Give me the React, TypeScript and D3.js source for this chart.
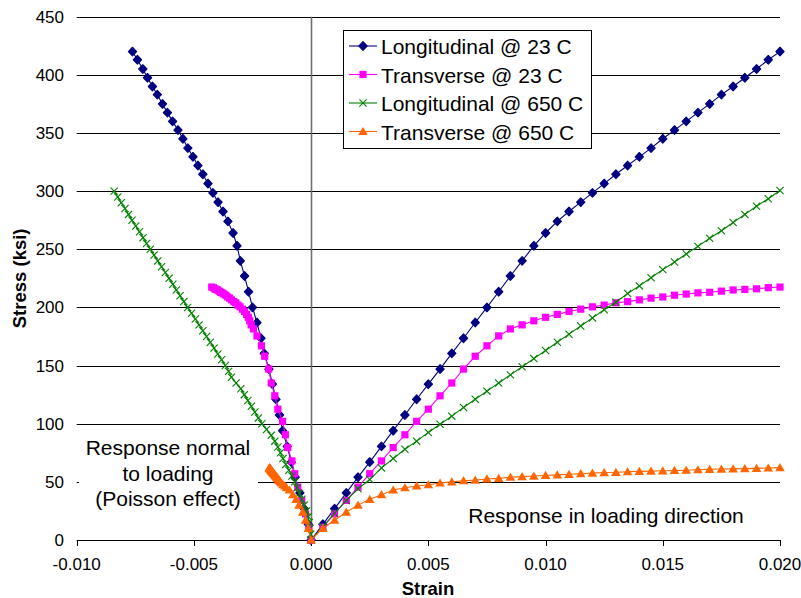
import React from "react";
import * as d3 from "d3";

// strain values of the loading-direction branches
const strainPos = [0, 0.0005, 0.001, 0.0015, 0.002, 0.0025, 0.003, 0.0035, 0.004, 0.0045, 0.005, 0.0055, 0.006, 0.0065, 0.007, 0.0075, 0.008, 0.0085, 0.009, 0.0095, 0.01, 0.0105, 0.011, 0.0115, 0.012, 0.0125, 0.013, 0.0135, 0.014, 0.0145, 0.015, 0.0155, 0.016, 0.0165, 0.017, 0.0175, 0.018, 0.0185, 0.019, 0.0195, 0.02];

// Longitudinal @ 23 C
const longRTStress = [0, 13.5, 27, 40.5, 54, 67, 80.5, 94, 107.5, 121, 134, 147, 160.5, 173.5, 187, 200, 213.5, 227, 240, 253, 264, 274, 282.5, 290.5, 298.5, 306.5, 314.5, 322, 329.5, 337, 345, 352.5, 360, 367.5, 375, 383, 390, 397.5, 405, 413, 420];
const longRTNegStrain = [0, -0.00012, -0.0003, -0.00048, -0.00068, -0.00085, -0.00102, -0.00122, -0.00135, -0.0015, -0.00165, -0.0018, -0.002, -0.00214, -0.00231, -0.0025, -0.00267, -0.00284, -0.00302, -0.00316, -0.00333, -0.00355, -0.00376, -0.00397, -0.00419, -0.0044, -0.00462, -0.00483, -0.00504, -0.00526, -0.00547, -0.00568, -0.00591, -0.00613, -0.00634, -0.00656, -0.00677, -0.00698, -0.00718, -0.00741, -0.00762];

// Transverse @ 23 C
const transRTStress = [0, 11, 22.5, 34, 45.5, 57, 68, 79.5, 90.5, 102, 112.5, 124, 135, 147, 158, 167, 175.5, 181.5, 185, 188.5, 191.5, 194, 196.5, 198.5, 200.5, 202, 204, 205, 206.5, 208, 209, 210.5, 211.5, 212.5, 213, 214, 215, 215.5, 216, 217, 217.5];
const transRTNegStrain = [0, -0.0001, -0.00024, -0.0004, -0.00057, -0.0007, -0.00082, -0.001, -0.0011, -0.00122, -0.00142, -0.00155, -0.0017, -0.00181, -0.00198, -0.00212, -0.00231, -0.00246, -0.00256, -0.00262, -0.00268, -0.00275, -0.00284, -0.00293, -0.00303, -0.00312, -0.00322, -0.0033, -0.0034, -0.00348, -0.00356, -0.00364, -0.00372, -0.0038, -0.00386, -0.00392, -0.00399, -0.00405, -0.00411, -0.00417, -0.00424];

// Longitudinal @ 650 C
const longHTStress = [0, 11.5, 23, 34, 44, 52, 62, 70, 78, 85, 92.5, 99.5, 106.5, 114, 121, 128, 135, 142, 149, 156, 163, 170, 177, 184, 191, 198, 204.5, 212, 218.5, 225.5, 232.5, 239, 246, 252.5, 259.5, 266, 273, 280, 287, 293.5, 300.5];
const longHTNegStress = [0, 5, 10, 15, 20, 25, 30, 35, 40, 45, 50, 55, 60, 65, 70, 75, 80, 85, 90, 95, 100, 105, 110, 115, 120, 125, 130, 135, 140, 145, 150, 155, 160, 165, 170, 175, 180, 185, 190, 195, 200, 205, 210, 215, 220, 225, 230, 235, 240, 245, 250, 255, 260, 265, 270, 275, 280, 285, 290, 295, 300];
const longHTNegStrain = [0, -0.00002, -0.00005, -0.00008, -0.00012, -0.0002, -0.0003, -0.0004, -0.0005, -0.0006, -0.0007, -0.00082, -0.00095, -0.00108, -0.0012, -0.00131, -0.00142, -0.00155, -0.0017, -0.0019, -0.0021, -0.00225, -0.0024, -0.00255, -0.0027, -0.00285, -0.003, -0.0032, -0.0034, -0.00352, -0.00366, -0.00382, -0.00398, -0.00414, -0.0043, -0.00446, -0.00462, -0.00478, -0.00494, -0.0051, -0.00527, -0.00543, -0.00559, -0.00575, -0.0059, -0.00606, -0.00622, -0.00638, -0.00654, -0.0067, -0.00686, -0.00702, -0.00717, -0.00732, -0.00748, -0.00764, -0.00779, -0.00794, -0.0081, -0.00825, -0.0084];

// Transverse @ 650 C
const transHTStress = [0, 10, 17, 24, 30, 35, 39, 43, 45, 46.5, 47.5, 49, 50, 51, 51.5, 52.5, 53, 54, 54.5, 55, 55.5, 56, 56.5, 57, 57.5, 58, 58.2, 58.7, 59, 59.2, 59.5, 59.8, 60, 60.4, 60.8, 61, 61.2, 61.4, 61.6, 61.9, 62.2];
const transHTNegStrain = [0, -0.00012, -0.00024, -0.00036, -0.00052, -0.00064, -0.00078, -0.00092, -0.00105, -0.00112, -0.0012, -0.00126, -0.00131, -0.00135, -0.00138, -0.0014, -0.00143, -0.00146, -0.00148, -0.0015, -0.00152, -0.00154, -0.00156, -0.00158, -0.0016, -0.00162, -0.00163, -0.00165, -0.00166, -0.00167, -0.00168, -0.00169, -0.0017, -0.00171, -0.00172, -0.00173, -0.00174, -0.00175, -0.00176, -0.00177, -0.00178];

const xTicks = [-0.01, -0.005, 0, 0.005, 0.01, 0.015, 0.02];
const yTicks = [0, 50, 100, 150, 200, 250, 300, 350, 400, 450];

const seriesNames = ["Longitudinal @ 23 C", "Transverse @ 23 C", "Longitudinal @ 650 C", "Transverse @ 650 C"];
const seriesColors = ["#000080", "#FF00FF", "#008000", "#FF6600"];
const seriesMarkers = ["diamond", "square", "x", "triangle"];

const FONT = "'Liberation Sans', Arial, Helvetica, sans-serif";

type Pt = [number, number];

function Marker({ kind, color, x, y }: { kind: string; color: string; x: number; y: number }) {
  if (kind === "diamond") {
    return <path d={`M${x},${y - 4.3}L${x + 4.1},${y}L${x},${y + 4.3}L${x - 4.1},${y}Z`} fill={color} stroke={color} strokeWidth={1.2} strokeLinejoin="round" />;
  }
  if (kind === "square") {
    return <rect x={x - 3.6} y={y - 3.6} width={7.2} height={7.2} fill={color} />;
  }
  if (kind === "triangle") {
    return <path d={`M${x},${y - 4.6}L${x + 4.8},${y + 3.6}L${x - 4.8},${y + 3.6}Z`} fill={color} />;
  }
  return (
    <g stroke={color} strokeWidth={1.1}>
      <line x1={x - 3.6} y1={y - 3.6} x2={x + 3.6} y2={y + 3.6} />
      <line x1={x - 3.6} y1={y + 3.6} x2={x + 3.6} y2={y - 3.6} />
    </g>
  );
}

export default function App() {
  const W = 801, H = 598;
  const x = d3.scaleLinear().domain([-0.01, 0.02]).range([76.7, 780]);
  const y = d3.scaleLinear().domain([0, 450]).range([540, 16.7]);

  const zip = (xs: number[], ys: number[]): Pt[] => xs.map((v, i) => [v, ys[i]] as Pt);

  const series = [
    { neg: zip(longRTNegStrain, longRTStress), pos: zip(strainPos, longRTStress) },
    { neg: zip(transRTNegStrain, transRTStress), pos: zip(strainPos, transRTStress) },
    { neg: zip(longHTNegStrain, longHTNegStress), pos: zip(strainPos, longHTStress) },
    { neg: zip(transHTNegStrain, transHTStress), pos: zip(strainPos, transHTStress) },
  ];

  const line = d3.line<Pt>().x((d) => x(d[0])).y((d) => y(d[1]));

  const legendX = 343.5, legendY = 30.5, legendW = 248, legendH = 118;
  const rowY = [46, 74.5, 103, 131.5];

  return (
    <svg width={W} height={H} style={{ position: "absolute", left: 0, top: 0, background: "#fff" }} fontFamily={FONT}>
      <rect x={0} y={0} width={W} height={H} fill="#fff" />
      {/* gridlines */}
      {yTicks.filter((t) => t > 0).map((t) => (
        <line key={t} x1={x(-0.01)} x2={x(0.02)} y1={Math.round(y(t)) + 0.5} y2={Math.round(y(t)) + 0.5} stroke="#000" strokeWidth={1} />
      ))}
      {/* y axis at x=0 */}
      <line x1={Math.round(x(0)) + 0.5} x2={Math.round(x(0)) + 0.5} y1={y(450)} y2={y(0)} stroke="#707070" strokeWidth={1.6} />
      {yTicks.map((t) => (
        <line key={"yt" + t} x1={x(0) - 5} x2={x(0)} y1={Math.round(y(t)) + 0.5} y2={Math.round(y(t)) + 0.5} stroke="#000" />
      ))}
      {/* x axis */}
      <line x1={x(-0.01)} x2={x(0.02)} y1={540.5} y2={540.5} stroke="#000" />
      {xTicks.map((t) => (
        <line key={"xt" + t} x1={Math.round(x(t)) + 0.5} x2={Math.round(x(t)) + 0.5} y1={540} y2={546} stroke="#000" />
      ))}
      {xTicks.map((t) => (
        <text key={"xl" + t} x={x(t)} y={570} fontSize={17} textAnchor="middle" fill="#000">
          {d3.format(".3f")(t).replace("−", "-")}
        </text>
      ))}
      {yTicks.map((t) => (
        <text key={"yl" + t} x={64} y={y(t) + 6} fontSize={17} textAnchor="end" fill="#000">
          {t}
        </text>
      ))}
      <text x={428} y={595} fontSize={18.5} fontWeight="bold" textAnchor="middle">Strain</text>
      <text transform={`translate(26,${(y(0) + y(450)) / 2}) rotate(-90)`} fontSize={18.5} fontWeight="bold" textAnchor="middle">Stress (ksi)</text>

      {/* annotation box */}
      <rect x={79} y={436} width={179} height={78} fill="#fff" />
      <text fontSize={21} textAnchor="middle" fill="#000">
        <tspan x={168} y={455}>Response normal</tspan>
        <tspan x={168} y={481}>to loading</tspan>
        <tspan x={168} y={506}>(Poisson effect)</tspan>
      </text>
      <text x={606} y={523} fontSize={21} textAnchor="middle" fill="#000">Response in loading direction</text>

      {/* series */}
      {series.map((s, i) => {
        const pts = [...s.neg.slice().reverse(), ...s.pos.slice(1)];
        return (
          <g key={i}>
            <path d={line(pts) || ""} fill="none" stroke={seriesColors[i]} strokeWidth={1.1} />
            {pts.map((p, j) => (
              <Marker key={j} kind={seriesMarkers[i]} color={seriesColors[i]} x={x(p[0])} y={y(p[1])} />
            ))}
          </g>
        );
      })}

      {/* legend */}
      <rect x={legendX} y={legendY} width={legendW} height={legendH} fill="#fff" stroke="#000" strokeWidth={1} />
      {seriesNames.map((n, i) => (
        <g key={n}>
          <line x1={349} x2={377} y1={rowY[i]} y2={rowY[i]} stroke={seriesColors[i]} strokeWidth={1.1} />
          <Marker kind={seriesMarkers[i]} color={seriesColors[i]} x={363} y={rowY[i]} />
          <text x={381} y={rowY[i] + 8} fontSize={21} fill="#000">{n}</text>
        </g>
      ))}
    </svg>
  );
}
